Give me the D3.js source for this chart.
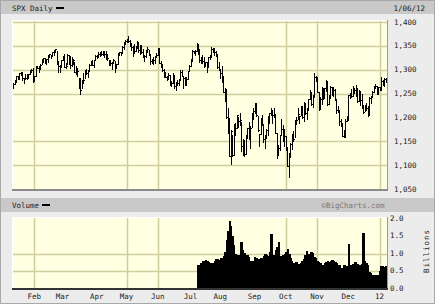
<!DOCTYPE html>
<html>
<head>
  <meta charset="utf-8">
  <script src="https://d3js.org/d3.v7.min.js"></script>
  <style>
    body { margin:0; background:#ececec; }
    text { font-family:"DejaVu Sans Mono", monospace; font-size:7.5px; fill:#222; }
  </style>
</head>
<body>
<script>
// daily bars, 6 Jan 2011 .. 6 Jan 2012 (one entry per trading day)
var highs = [
  1278.2,1276.2,1271.5,1277.6,1286.5,1287.0,1293.2,1296.1,1294.6,1282.2,1291.2,1291.3,1291.3,1299.7,1301.3,1302.7,1287.2,
  1308.0,1307.6,1308.6,1311.0,1322.9,1324.9,1324.0,1323.4,1330.8,1332.5,1330.6,1337.8,1341.4,1344.1,1338.9,1317.9,1310.9,1320.9,1329.4,
  1332.3,1314.4,1332.3,1331.1,1327.7,1325.7,1323.2,1315.7,1308.3,1301.7,1282.0,1280.9,1278.7,1293.0,1299.2,1300.6,1300.0,1311.3,1319.2,1319.7,1319.5,1331.7,1329.8,
  1337.9,1336.7,1338.2,1339.5,1338.8,1339.5,1333.2,1321.4,1321.4,1316.8,1322.9,1319.1,1312.7,1334.0,1337.5,1337.6,1349.6,1357.5,1361.7,1364.6,
  1370.6,1362.6,1355.4,1348.8,1354.4,1349.4,1359.4,1357.8,1351.0,1351.9,1343.3,1330.4,1341.9,1346.8,1342.0,1333.1,1323.5,1325.9,1328.5,1334.6,1345.2,
  1345.2,1318.0,1312.9,1300.6,1296.2,1287.0,1292.5,1288.6,1277.3,1292.5,1287.9,1274.1,1279.0,1280.4,1298.6,1298.6,1286.8,1284.9,1284.5,1296.8,1309.2,1322.0,
  1341.0,1340.0,1340.9,1356.5,1353.2,1343.3,1327.2,1331.5,1326.7,1317.1,1315.5,1327.2,1330.7,1347.0,1346.1,1344.3,1338.5,1331.9,1316.3,1300.8,
  1307.4,1286.6,1261.0,1260.2,1218.9,1199.1,1172.9,1162.5,1186.3,1189.0,1204.5,1201.1,1208.5,1191.2,1154.7,1153.6,1162.4,1178.5,1190.7,1181.2,1210.3,1220.1,1230.7,
  1229.3,1203.9,1165.3,1198.6,1204.2,1185.8,1162.5,1176.4,1202.4,1209.1,1220.1,1216.0,1220.4,1206.3,1166.6,1141.7,1164.2,1195.9,1184.6,1175.3,1160.4,
  1139.0,1125.1,1146.1,1165.0,1171.4,1194.9,1200.4,1220.3,1203.7,1224.6,1224.6,1233.1,1229.3,1219.0,1239.0,1256.6,1254.2,1246.3,1292.7,1287.1,1284.7,
  1253.2,1242.5,1263.2,1261.1,1261.7,1277.6,1275.9,1246.3,1266.9,1263.9,1264.3,1259.6,1237.9,1223.5,1215.6,1196.8,1188.0,1172.7,1197.3,1203.7,1247.0,
  1251.1,1260.1,1266.7,1262.3,1267.1,1260.9,1258.3,1255.2,1249.9,1225.7,1225.6,1231.0,1224.6,1242.8,1245.0,1255.2,1265.4,1269.4,1265.9,1263.5,1264.1,
  1284.6,1278.7,1283.1,1281.8
];
var lows = [
  1270.2,1262.7,1262.2,1269.6,1275.3,1280.4,1281.1,1288.2,1278.9,1271.3,1282.1,1281.1,1282.9,1291.0,1294.4,1275.1,1276.6,
  1286.7,1302.6,1294.8,1301.4,1312.2,1316.0,1314.9,1311.3,1316.1,1326.9,1324.6,1328.1,1331.8,1338.0,1312.3,1294.3,1294.3,1308.8,1320.2,
  1306.1,1302.6,1311.3,1312.6,1303.9,1306.9,1312.3,1294.2,1291.3,1286.4,1261.6,1249.1,1261.9,1273.2,1282.0,1291.2,1285.4,1297.7,1310.2,1310.2,1305.3,1321.9,1325.0,
  1328.9,1329.1,1330.0,1330.9,1326.6,1322.9,1321.1,1309.5,1309.2,1302.4,1313.7,1294.7,1303.9,1312.6,1332.2,1331.4,1336.0,1344.4,1353.6,1358.7,
  1358.6,1349.2,1341.5,1329.2,1336.4,1338.6,1346.3,1336.4,1332.0,1335.3,1327.3,1318.5,1326.6,1336.7,1330.7,1312.8,1313.9,1311.8,1314.0,1325.7,1331.1,
  1313.7,1305.6,1297.9,1284.9,1284.7,1277.4,1279.6,1268.2,1265.6,1272.4,1261.9,1258.1,1267.4,1267.6,1278.4,1286.8,1262.7,1267.4,1267.5,1280.1,1296.7,1307.4,
  1318.0,1334.3,1330.9,1339.2,1333.4,1316.4,1313.3,1314.5,1306.0,1307.6,1295.9,1305.4,1322.6,1325.8,1336.9,1331.1,1329.6,1303.5,1299.2,1282.9,
  1274.7,1254.0,1234.6,1199.5,1168.1,1119.3,1101.5,1120.1,1121.0,1164.2,1178.8,1180.5,1184.8,1130.5,1122.0,1119.1,1123.8,1156.1,1155.1,1135.9,1179.4,1195.8,1209.4,
  1203.9,1170.6,1140.1,1165.9,1183.3,1149.4,1136.1,1157.4,1162.7,1189.0,1204.5,1187.3,1201.4,1166.4,1114.2,1121.4,1131.1,1163.1,1150.4,1139.9,1131.0,
  1098.9,1074.8,1116.1,1134.0,1150.3,1158.7,1187.2,1195.9,1189.0,1205.6,1198.6,1191.5,1206.3,1197.3,1215.4,1238.2,1226.8,1220.9,1242.5,1277.0,1253.2,
  1215.4,1219.0,1228.7,1238.4,1240.8,1254.9,1226.6,1227.7,1240.0,1246.7,1244.3,1236.5,1209.4,1211.4,1183.2,1181.7,1161.4,1158.7,1158.7,1191.8,1196.7,
  1239.7,1243.4,1244.3,1252.1,1244.8,1231.5,1234.4,1227.0,1219.4,1209.5,1212.7,1215.2,1202.4,1205.4,1229.5,1243.7,1254.0,1262.3,1248.6,1249.6,1257.5,
  1258.0,1268.1,1265.7,1273.3
];
var closes = [
  1273.9,1271.5,1269.8,1274.5,1286.0,1283.8,1293.2,1295.0,1281.9,1280.3,1283.4,1290.8,1291.2,1296.6,1299.5,1276.3,1286.1,
  1307.6,1304.0,1307.1,1310.9,1319.1,1324.6,1320.9,1321.9,1329.2,1332.3,1328.0,1336.3,1340.4,1343.0,1315.4,1307.4,1306.1,1319.9,1327.2,
  1306.3,1308.4,1331.0,1321.2,1310.1,1321.8,1320.0,1295.1,1304.3,1296.4,1281.9,1256.9,1273.7,1279.2,1298.4,1293.8,1297.5,1309.7,1313.8,1310.2,1319.4,1328.3,1325.8,
  1332.4,1332.9,1332.6,1335.5,1333.5,1328.2,1324.5,1314.2,1314.4,1314.5,1319.7,1305.1,1312.6,1330.4,1337.4,1335.3,1347.2,1355.7,1360.5,1363.6,
  1361.2,1356.6,1347.3,1335.1,1340.2,1346.3,1357.2,1342.1,1348.7,1337.8,1329.5,1329.0,1340.7,1343.6,1333.3,1317.4,1316.3,1320.5,1325.7,1331.1,1345.2,
  1314.6,1312.9,1300.2,1286.2,1284.9,1279.6,1289.0,1271.0,1271.8,1287.9,1265.4,1267.6,1271.5,1278.4,1295.5,1287.1,1283.5,1268.5,1280.1,1296.7,1307.4,1320.6,
  1339.7,1337.9,1339.2,1353.2,1343.8,1319.5,1313.6,1317.7,1308.9,1316.1,1305.4,1326.7,1325.8,1343.8,1345.0,1337.4,1331.9,1304.9,1300.7,1292.3,
  1286.9,1254.1,1260.3,1200.1,1199.4,1119.5,1172.5,1120.8,1172.6,1178.8,1204.5,1192.8,1193.9,1140.7,1123.5,1123.8,1162.4,1177.6,1159.3,1176.8,1210.1,1212.9,1218.9,
  1204.4,1174.0,1165.2,1198.6,1185.9,1154.2,1162.3,1172.9,1188.7,1209.1,1216.0,1204.1,1202.1,1166.8,1129.6,1136.4,1163.0,1175.4,1151.1,1160.4,1131.4,
  1099.2,1124.0,1144.0,1165.0,1155.5,1194.9,1195.5,1207.3,1203.7,1224.6,1200.9,1225.4,1209.9,1215.4,1238.3,1254.2,1229.1,1242.0,1284.6,1285.1,1253.3,
  1218.3,1237.9,1261.2,1253.2,1261.1,1275.9,1229.1,1239.7,1263.9,1251.8,1257.8,1236.9,1216.1,1215.7,1193.0,1188.0,1161.8,1158.7,1192.6,1195.2,1247.0,
  1244.6,1244.3,1257.1,1258.5,1261.0,1234.4,1255.2,1236.5,1225.7,1211.8,1215.8,1219.7,1205.4,1241.3,1243.7,1254.0,1265.3,1265.4,1249.6,1263.0,1257.6,
  1277.1,1277.3,1281.1,1277.8
];

// volume (billions) only shown from bar 126 on
var volStart = 126;
var volumes = [
  0.67,0.68,0.72,0.78,0.80,0.82,0.78,0.75,0.72,0.70,0.72,0.78,0.84,0.85,0.82,0.86,0.88,0.92,1.05,1.40,
  1.65,1.92,1.80,1.50,1.25,1.00,0.92,0.95,0.93,1.32,1.10,1.02,0.96,0.97,0.90,0.80,0.76,0.78,0.91,0.86,
  0.81,0.84,0.86,0.88,0.92,1.00,0.95,0.92,1.05,1.57,0.90,0.95,1.10,1.20,1.34,0.92,0.90,0.95,1.00,1.05,
  1.14,1.00,0.87,0.78,0.73,0.72,0.75,0.70,0.70,0.72,0.80,0.84,0.95,1.07,0.98,1.00,1.05,1.02,0.90,0.88,
  0.80,0.77,0.72,0.67,0.68,0.72,0.77,0.78,0.76,0.80,0.81,0.78,0.76,0.72,0.67,0.66,0.60,0.44,0.66,0.65,
  0.63,1.26,0.68,0.66,0.70,0.75,0.76,0.70,0.68,0.66,0.70,1.60,0.80,0.74,0.66,0.46,0.44,0.40,0.38,0.38,
  0.38,0.38,0.50,0.64,0.64,0.62,0.64
];

var monthLabels = ["Feb","Mar","Apr","May","Jun","Jul","Aug","Sep","Oct","Nov","Dec","12"];
var monthStarts = [17,36,59,79,100,122,142,165,186,207,228,249];
var gridStarts = [17,79,100,186,207,249];

var priceTicks = [1400,1350,1300,1250,1200,1150,1100,1050];
var priceGrid = [1400,1350,1300,1250,1150,1100];
var volTicks = [2.0,1.5,1.0,0.5,0.0];
var volGrid = [1.0,0.5];

var W = 435, H = 304;
var left = 12, right = 388;
var pTop = 20, pBot = 189;
var vTop = 217, vBot = 288;

var svg = d3.select("body").append("svg")
  .attr("width", W).attr("height", H);

svg.append("rect").attr("x",0.5).attr("y",0.5).attr("width",W-1).attr("height",H-1)
  .attr("fill","#ececec").attr("stroke","#a8a8a8");

var x = d3.scaleLinear().domain([0, closes.length-1]).range([10.5, 385.5]);
var y = d3.scaleLinear().domain([1050, 1400]).range([189, 22]);
var yv = d3.scaleLinear().domain([0, 2]).range([288.5, 218.5]);

// header bars
svg.append("rect").attr("x",1).attr("y",1).attr("width",W-2).attr("height",13).attr("fill","#c9c9c9");
svg.append("rect").attr("x",1).attr("y",198).attr("width",W-2).attr("height",14).attr("fill","#c9c9c9");

svg.append("text").attr("x",12).attr("y",11).text("SPX Daily");
svg.append("rect").attr("x",56).attr("y",7).attr("width",8).attr("height",2).attr("fill","#000");
svg.append("text").attr("x",425).attr("y",11).attr("text-anchor","end").text("1/06/12");

svg.append("text").attr("x",12).attr("y",208).text("Volume");
svg.append("rect").attr("x",42).attr("y",204).attr("width",8).attr("height",2).attr("fill","#000");
svg.append("text").attr("x",353).attr("y",208).attr("text-anchor","middle")
  .style("fill","#777").text("\u00A9BigCharts.com");

// panels
function panel(t, b) {
  svg.append("rect").attr("x",left).attr("y",t).attr("width",right-left).attr("height",b-t)
    .attr("fill","#ffffe2");
  svg.append("line").attr("x1",left).attr("x2",right).attr("y1",t+0.5).attr("y2",t+0.5)
    .attr("stroke","#fff");
  svg.append("line").attr("x1",left+0.5).attr("x2",left+0.5).attr("y1",t).attr("y2",b)
    .attr("stroke","#fff");
  svg.append("line").attr("x1",right-0.5).attr("x2",right-0.5).attr("y1",t).attr("y2",b)
    .attr("stroke","#9a9a9a");
}
panel(pTop, pBot);
panel(vTop, vBot);

var grid = svg.append("g").attr("stroke","#cfcf9e").attr("stroke-width",1.5);
gridStarts.forEach(function(m){
  var gx = Math.round(x(m-1)) + 0.5;
  grid.append("line").attr("x1",gx).attr("x2",gx).attr("y1",pTop+1).attr("y2",pBot);
  grid.append("line").attr("x1",gx).attr("x2",gx).attr("y1",vTop+1).attr("y2",vBot);
});
priceGrid.forEach(function(p){
  var gy = Math.round(y(p)) + 0.5;
  grid.append("line").attr("x1",left+1).attr("x2",right-1).attr("y1",gy).attr("y2",gy);
});
volGrid.forEach(function(v){
  var gy = Math.round(yv(v)) + 0.5;
  grid.append("line").attr("x1",left+1).attr("x2",right-1).attr("y1",gy).attr("y2",gy);
});

// price bars
svg.append("clipPath").attr("id","pclip").append("rect")
  .attr("x",left+1).attr("y",pTop).attr("width",right-left-2).attr("height",pBot-pTop);
var bars = svg.append("g").attr("clip-path","url(#pclip)")
  .attr("stroke","#000").attr("shape-rendering","crispEdges");
closes.forEach(function(c, i){
  var bx = Math.round(x(i)) + 0.5;
  bars.append("line").attr("x1",bx).attr("x2",bx)
    .attr("y1",y(highs[i])).attr("y2",y(lows[i]) + 1);
  bars.append("line").attr("x1",bx).attr("x2",bx+1.5)
    .attr("y1",Math.round(y(c))+0.5).attr("y2",Math.round(y(c))+0.5);
});

// volume
var step = x(1) - x(0);
svg.append("g").attr("shape-rendering","crispEdges")
  .selectAll("rect").data(volumes).enter().append("rect")
  .attr("x", function(d,i){ return x(i+volStart) - step/2; })
  .attr("width", step + 1)
  .attr("y", function(d){ return yv(d); })
  .attr("height", function(d){ return yv(0) - yv(d); })
  .attr("fill","#000");

// bottom edges
svg.append("rect").attr("x",left).attr("y",pBot).attr("width",right-left).attr("height",2).attr("fill","#8a8a8a");
svg.append("rect").attr("x",left).attr("y",vBot).attr("width",right-left).attr("height",2).attr("fill","#333");

// axis labels
svg.selectAll("text.pl").data(priceTicks).enter().append("text")
  .attr("class","pl").attr("x",394).attr("y",function(d){ return y(d)+2.5; })
  .text(function(d){ return d3.format(",")(d); });
svg.selectAll("text.vl").data(volTicks).enter().append("text")
  .attr("class","vl").attr("x",390).attr("y",function(d){ return yv(d)+2; })
  .text(function(d){ return d3.format(".1f")(d); });
svg.append("text").attr("transform","translate(429,251) rotate(-90)")
  .attr("text-anchor","middle").style("letter-spacing","1px").text("Billions");
svg.selectAll("text.ml").data(monthLabels).enter().append("text")
  .attr("class","ml").attr("x",function(d,i){ return x(monthStarts[i]) - 1.5; })
  .attr("y",299).attr("text-anchor","middle").text(function(d){ return d; });
</script>
</body>
</html>
